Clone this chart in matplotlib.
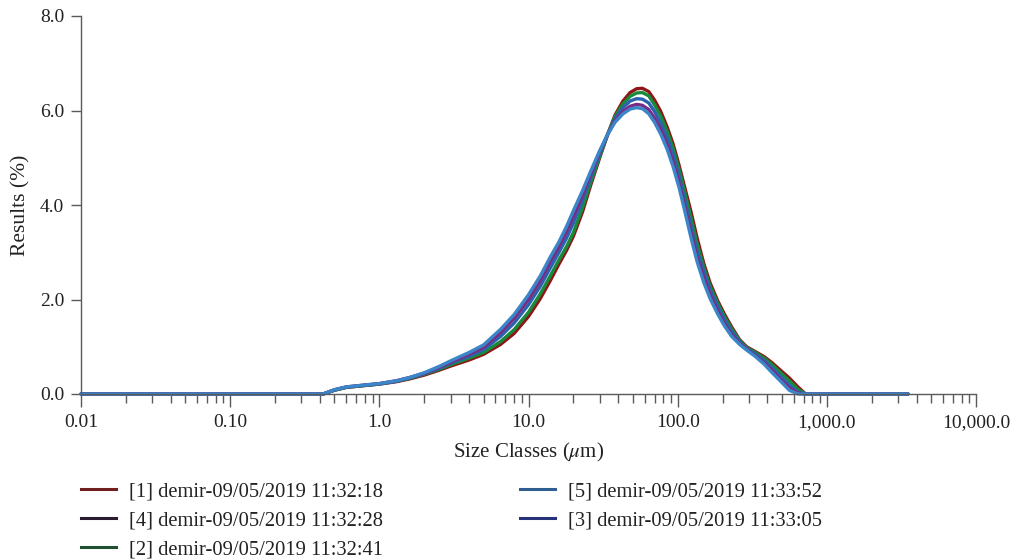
import matplotlib
matplotlib.use("Agg")
import matplotlib.pyplot as plt
from matplotlib.lines import Line2D
from matplotlib.ticker import FixedLocator, FixedFormatter, LogLocator, NullFormatter

# ---------------- data ----------------
sizes = [0.01, 0.1, 0.42, 0.5, 0.6, 0.8, 1.0, 1.3, 1.6, 2.0, 2.5, 3.0, 4.0, 5.0, 6.5, 8.0,
         10, 12, 14, 16, 18, 20, 23, 26, 30, 34, 38, 43, 48, 53, 58, 64, 70, 77, 85, 93, 102,
         112, 123, 135, 150, 165, 185, 205, 230, 260, 290, 330, 380, 430, 490, 560, 640, 720,
         800, 3500]

run1 = [0, 0, 0, 0.08, 0.14, 0.18, 0.21, 0.26, 0.32, 0.40, 0.50, 0.59, 0.72, 0.84, 1.05, 1.28,
        1.64, 2.02, 2.40, 2.75, 3.04, 3.34, 3.85, 4.40, 5.00, 5.50, 5.90, 6.20, 6.38, 6.46, 6.47,
        6.40, 6.22, 5.98, 5.65, 5.30, 4.85, 4.35, 3.85, 3.30, 2.75, 2.35, 1.98, 1.70, 1.42, 1.15,
        1.00, 0.90, 0.79, 0.66, 0.50, 0.34, 0.15, 0.0, 0, 0]
run2 = [0, 0, 0, 0.08, 0.14, 0.18, 0.21, 0.27, 0.33, 0.42, 0.52, 0.62, 0.76, 0.88, 1.11, 1.36,
        1.73, 2.12, 2.50, 2.84, 3.12, 3.42, 3.94, 4.46, 5.03, 5.50, 5.87, 6.14, 6.30, 6.37, 6.38,
        6.31, 6.12, 5.88, 5.56, 5.21, 4.76, 4.25, 3.72, 3.18, 2.67, 2.28, 1.93, 1.65, 1.38, 1.13,
        0.98, 0.88, 0.76, 0.62, 0.45, 0.28, 0.10, 0.0, 0, 0]
run3 = [0, 0, 0, 0.085, 0.145, 0.185, 0.215, 0.27, 0.34, 0.43, 0.54, 0.65, 0.80, 0.94, 1.22, 1.50,
        1.89, 2.28, 2.67, 3.00, 3.30, 3.62, 4.10, 4.57, 5.08, 5.50, 5.82, 6.06, 6.20, 6.25, 6.24,
        6.16, 5.98, 5.73, 5.42, 5.08, 4.62, 4.08, 3.55, 3.02, 2.58, 2.20, 1.86, 1.58, 1.32, 1.10,
        0.96, 0.85, 0.71, 0.55, 0.37, 0.19, 0.04, 0, 0, 0]
run4 = [0, 0, 0, 0.09, 0.15, 0.19, 0.22, 0.28, 0.35, 0.44, 0.56, 0.67, 0.84, 0.99, 1.30, 1.60,
        2.00, 2.40, 2.80, 3.12, 3.44, 3.76, 4.20, 4.64, 5.12, 5.50, 5.78, 5.98, 6.09, 6.13, 6.11,
        6.02, 5.84, 5.60, 5.28, 4.93, 4.48, 3.95, 3.42, 2.90, 2.46, 2.10, 1.77, 1.50, 1.26, 1.07,
        0.94, 0.82, 0.66, 0.50, 0.31, 0.13, 0.02, 0, 0, 0]
run5 = [0, 0, 0, 0.09, 0.15, 0.19, 0.22, 0.28, 0.35, 0.45, 0.58, 0.70, 0.88, 1.04, 1.37, 1.68,
        2.10, 2.50, 2.90, 3.22, 3.55, 3.88, 4.30, 4.70, 5.15, 5.50, 5.75, 5.93, 6.03, 6.06, 6.04,
        5.93, 5.75, 5.50, 5.18, 4.82, 4.38, 3.85, 3.30, 2.80, 2.35, 2.02, 1.70, 1.45, 1.22, 1.05,
        0.93, 0.80, 0.63, 0.45, 0.27, 0.08, 0.0, 0, 0, 0]

legend_labels = ["[1] demir-09/05/2019 11:32:18",
                 "[4] demir-09/05/2019 11:32:28",
                 "[2] demir-09/05/2019 11:32:41",
                 "[5] demir-09/05/2019 11:33:52",
                 "[3] demir-09/05/2019 11:33:05"]
legend_colors = ["#6e1f1f", "#2b1b30", "#1f4f2f", "#2f5f90", "#27327a"]

x_ticks = [0.01, 0.1, 1, 10, 100, 1000, 10000]
x_ticklabels = ["0.01", "0.10", "1.0", "10.0", "100.0", "1,000.0", "10,000.0"]
y_ticks = [0, 2, 4, 6, 8]
y_ticklabels = ["0.0", "2.0", "4.0", "6.0", "8.0"]

# ---------------- style ----------------
plt.rcParams["font.family"] = ["Liberation Serif", "DejaVu Serif"]
plt.rcParams["mathtext.fontset"] = "stix"
gray = "#5a5a5a"
txt = "#222222"

fig = plt.figure(figsize=(10.18, 5.59), dpi=100)
ax = fig.add_axes([81 / 1018, 1 - 394 / 559, (976 - 81) / 1018, (394 - 16) / 559])

series = [(run1, "#8e1616"), (run2, "#178a3c"), (run3, "#2a62b0"),
          (run4, "#7a2c84"), (run5, "#3a86c8")]
for vals, col in series:
    ax.plot(sizes, vals, color=col, lw=2.4, clip_on=False, solid_capstyle="round")

ax.set_xscale("log")
ax.set_xlim(0.01, 10000)
ax.set_ylim(0, 8)

ax.xaxis.set_major_locator(FixedLocator(x_ticks))
ax.xaxis.set_major_formatter(FixedFormatter(x_ticklabels))
ax.xaxis.set_minor_locator(LogLocator(base=10, subs=range(2, 10), numticks=20))
ax.xaxis.set_minor_formatter(NullFormatter())
ax.yaxis.set_major_locator(FixedLocator(y_ticks))
ax.yaxis.set_major_formatter(FixedFormatter(y_ticklabels))

for s in ["top", "right"]:
    ax.spines[s].set_visible(False)
for s in ["left", "bottom"]:
    ax.spines[s].set_color(gray)
    ax.spines[s].set_linewidth(1.0)

ax.tick_params(axis="x", which="major", direction="out", length=9, width=1.0,
               color=gray, labelsize=14, pad=5.5, labelcolor=txt)
ax.tick_params(axis="x", which="minor", direction="out", length=6.5, width=1.0, color=gray)
ax.tick_params(axis="y", which="major", direction="out", length=7, width=1.0,
               color=gray, labelsize=14, pad=5, labelcolor=txt)

ax.set_xlabel(r"Size Classes ($\mu$m)", fontsize=15, color=txt, labelpad=7)
ax.set_ylabel("Results (%)", fontsize=15.5, color=txt, labelpad=7)

handles = [Line2D([], [], color=c, lw=2.2) for c in legend_colors]
fig.legend(handles, legend_labels, loc="upper left", bbox_to_anchor=(81 / 1018, 1 - 482 / 559),
           ncol=2, frameon=False, fontsize=14.8, handlelength=1.7, handletextpad=0.62,
           columnspacing=6.7, labelspacing=0.47, borderaxespad=0, borderpad=0,
           labelcolor=txt)

fig.savefig("out.png", dpi=100)
